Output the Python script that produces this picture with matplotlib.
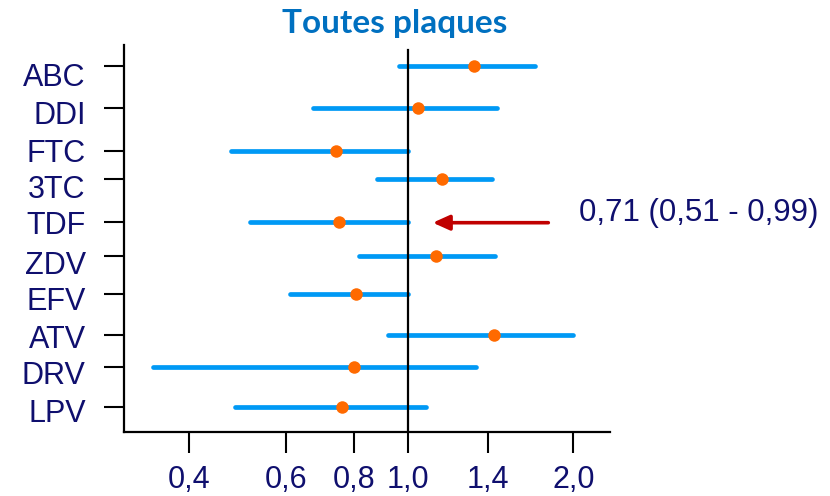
import matplotlib
matplotlib.use("Agg")
import matplotlib.pyplot as plt
from matplotlib.ticker import FixedLocator, NullLocator

# Data
drugs = ["ABC", "DDI", "FTC", "3TC", "TDF", "ZDV", "EFV", "ATV", "DRV", "LPV"]
point = [1.32, 1.044, 0.742, 1.154, 0.749, 1.124, 0.804, 1.435, 0.798, 0.758]
lower = [0.962, 0.673, 0.478, 0.880, 0.516, 0.815, 0.611, 0.921, 0.345, 0.485]
upper = [1.70, 1.45, 1.0, 1.42, 1.0, 1.44, 1.0, 2.0, 1.33, 1.08]
xticks = [0.4, 0.6, 0.8, 1.0, 1.4, 2.0]
xtick_labels = ["0,4", "0,6", "0,8", "1,0", "1,4", "2,0"]
title = "Toutes plaques"
note = "0,71 (0,51 - 0,99)"

# Layout: vertical row positions (uneven spacing as in the reference)
row_y = [65.7, 108, 151, 179, 221.7, 256, 294, 335, 367, 406.7]
label_y = [75, 112, 150, 186, 223, 262, 299, 336, 373, 410]

navy = "#0F0F6E"
blue = "#0099F5"
orange = "#FF6A00"
red = "#C00000"

fig = plt.figure(figsize=(8.30, 4.96), dpi=100)
ax = fig.add_axes([124/830, 1-432/496, (610-124)/830, (432-45)/496])
ax.set_xscale("log")
ax.set_xlim(0.305, 2.33)
ax.set_ylim(432, 45)

for lo, hi, p, y in zip(lower, upper, point, row_y):
    ax.plot([lo, hi], [y, y], color=blue, lw=3.4, solid_capstyle="round", zorder=2)
    ax.plot([p], [y], "o", color=orange, ms=9, zorder=4, markeredgewidth=0)

ax.plot([1.0, 1.0], [50, 432], color="black", lw=1.6, zorder=3)

for s in ["top", "right"]:
    ax.spines[s].set_visible(False)
for s in ["left", "bottom"]:
    ax.spines[s].set_linewidth(1.6)

ax.xaxis.set_major_locator(FixedLocator(xticks))
ax.xaxis.set_minor_locator(NullLocator())
ax.set_xticklabels(xtick_labels)
ax.set_yticks(row_y)
ax.set_yticklabels([""] * len(row_y))
ax.set_yticks(label_y, minor=True)
ax.set_yticklabels(drugs, minor=True)
ax.tick_params(axis="x", direction="out", length=15, width=1.5, pad=9,
               labelsize=22, labelcolor=navy)
ax.tick_params(axis="y", which="major", direction="out", length=14.4, width=1.5)
ax.tick_params(axis="y", which="minor", length=0, pad=27.5,
               labelsize=22, labelcolor=navy)
for lab in ax.get_xticklabels() + ax.get_yticklabels(minor=True):
    lab.set_family(["Liberation Sans", "DejaVu Sans"])

# Arrow pointing to TDF
ax.annotate("", xy=(1.11, row_y[4] + 1), xytext=(1.80, row_y[4] + 1),
            arrowprops=dict(arrowstyle="-|>,head_length=1.0,head_width=0.45",
                            color=red, lw=2.6, shrinkA=0, shrinkB=0),
            annotation_clip=False)
ax.text(2.05, row_y[4] - 9, note, ha="left", va="center", fontsize=22.5,
        color=navy, family=["Liberation Sans", "DejaVu Sans"], clip_on=False)

fig.text(395/830, 1-24/496, title, ha="center", va="center", fontsize=24,
         fontweight="bold", color="#0070C0", family=["Lato", "DejaVu Sans"])

fig.savefig("out.png", dpi=100)
